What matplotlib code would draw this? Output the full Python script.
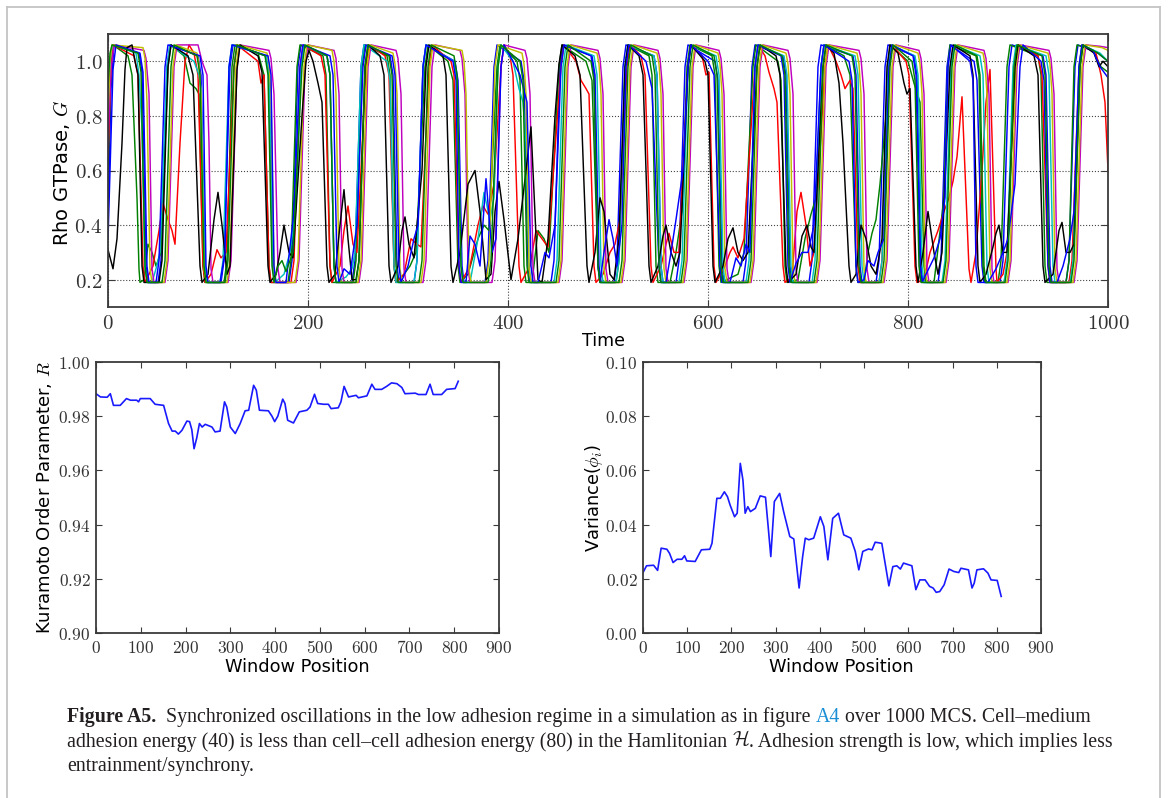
import matplotlib
matplotlib.use("Agg")
import matplotlib.pyplot as plt
from matplotlib.ticker import FixedLocator, FuncFormatter
from matplotlib.lines import Line2D

W, H = 1168, 798

# ---------------- top panel data: (time, Rho GTPase G) keypoints ----------------
rho_blue_1 = [(0,0.42),(3,0.9),(6,1.06),(31,1.03),(34,0.96),(38,0.25),(40,0.19),
 (50,0.19),(53,0.27),(59,0.98),(62,1.06),(90,1.02),(93,0.95),(97,0.25),(99,0.19),
 (113,0.19),(116,0.27),(122,0.98),(125,1.06),(158,1.02),(161,0.95),(165,0.25),(167,0.19),
 (181,0.19),(184,0.27),(190,0.98),(193,1.06),(219,1.02),(222,0.95),(226,0.25),(228,0.19),
 (244,0.19),(247,0.27),(253,0.98),(256,1.06),(282,1.02),(285,0.95),(289,0.25),(291,0.19),
 (306,0.19),(309,0.27),(315,0.98),(318,1.06),(347,1.0),(350,0.93),(354,0.25),(356,0.19),
 (377,0.19),(380,0.27),(386,0.98),(389,1.06),(413,1.0),(416,0.93),(420,0.25),(422,0.19),
 (443,0.19),(446,0.27),(452,0.98),(455,1.06),(484,1.02),(487,0.95),(491,0.25),(493,0.19),
 (506,0.19),(509,0.27),(515,0.98),(518,1.06),(546,1.02),(549,0.95),(553,0.25),(555,0.19),
 (568,0.19),(571,0.27),(577,0.98),(580,1.06),(607,1.0),(610,0.93),(614,0.25),(616,0.19),
 (635,0.19),(638,0.27),(644,0.98),(647,1.06),(675,1.02),(678,0.95),(682,0.25),(684,0.19),
 (701,0.19),(704,0.27),(710,0.98),(713,1.06),(745,1.02),(748,0.95),(752,0.25),(754,0.19),
 (768,0.19),(771,0.27),(777,0.98),(780,1.06),(806,1.02),(809,0.95),(813,0.25),(815,0.19),
 (830,0.19),(833,0.27),(839,0.98),(842,1.06),(866,1.0),(869,0.93),(874,0.25),(876,0.19),
 (892,0.19),(895,0.27),(901,0.98),(904,1.06),(935,1.02),(938,0.95),(942,0.25),(944,0.19),
 (958,0.19),(961,0.27),(967,0.98),(970,1.06),(990,1.03),(1000,1.0)]

rho_green_1 = [(0,0.6),(3,0.98),(5,1.06),(20,1.02),(24,0.95),(29,0.5),(31,0.24),(32,0.19),(36,0.2),
 (40,0.33),(44,0.3),(48,0.25),(53,0.3),(60,0.98),(63,1.06),(76,1.02),(82,0.92),(88,0.9),(91,0.88),
 (95,0.25),(97,0.19),(116,0.19),(119,0.27),(124,0.98),(127,1.06),(150,1.03),(156,0.95),(161,0.25),
 (163,0.19),(180,0.19),(183,0.27),(189,0.98),(192,1.06),(215,1.02),(218,0.95),(222,0.25),(224,0.19),
 (245,0.19),(248,0.27),(254,0.98),(257,1.06),(279,1.02),(282,0.95),(286,0.25),(288,0.19),
 (296,0.22),(302,0.25),(308,0.3),(317,0.98),(320,1.06),(340,1.0),(345,0.93),(350,0.25),(352,0.19),
 (360,0.22),(370,0.35),(376,0.4),(381,0.38),(389,0.98),(392,1.06),(409,1.0),(412,0.93),(416,0.25),
 (418,0.19),(424,0.19),(430,0.38),(436,0.35),(441,0.3),(451,0.98),(454,1.06),(478,1.0),(484,0.93),
 (490,0.25),(492,0.19),(508,0.19),(511,0.27),(517,0.98),(520,1.06),(541,1.02),(544,0.95),(548,0.25),
 (550,0.19),(562,0.19),(568,0.3),(574,0.45),(579,0.98),(582,1.06),(604,1.02),(607,0.95),(611,0.25),
 (613,0.19),(630,0.22),(636,0.3),(645,0.98),(648,1.06),(670,1.0),(673,0.93),(677,0.25),(679,0.19),
 (690,0.2),(697,0.35),(703,0.44),(708,0.5),(713,0.98),(716,1.06),(736,1.02),(742,0.95),(748,0.25),
 (750,0.19),(756,0.19),(760,0.3),(764,0.37),(768,0.42),(772,0.55),(778,0.8),(780,0.98),(782,1.06),
 (800,1.0),(806,0.92),(812,0.85),(816,0.25),(818,0.19),(826,0.19),(836,0.5),(840,0.98),(842,1.06),
 (868,1.02),(871,0.95),(875,0.25),(877,0.19),(890,0.19),(893,0.27),(899,0.98),(902,1.06),
 (930,1.02),(933,0.95),(937,0.25),(939,0.19),(958,0.19),(961,0.27),(966,0.98),(969,1.06),
 (985,1.04),(993,0.98),(1000,0.96)]

rho_red = [(0,0.65),(3,0.98),(5,1.06),(26,1.02),(30,0.95),(35,0.25),(37,0.19),(45,0.25),(51,0.38),
 (55,0.48),(60,0.42),(64,0.38),(67,0.33),(72,0.7),(77,1.0),(81,1.06),(86,1.03),(90,0.95),(95,0.25),
 (97,0.19),(103,0.22),(109,0.31),(113,0.28),(118,0.3),(126,0.98),(129,1.06),(150,1.0),(153,0.92),
 (156,0.95),(161,0.25),(163,0.19),(183,0.19),(186,0.27),(192,0.98),(195,1.06),(213,1.02),(217,0.95),
 (222,0.25),(224,0.19),(232,0.25),(236,0.38),(240,0.47),(245,0.33),(249,0.3),(258,0.98),(261,1.06),
 (277,1.02),(281,0.95),(286,0.25),(288,0.19),(296,0.22),(303,0.35),(309,0.33),(313,0.32),(321,0.98),
 (324,1.06),(343,1.0),(346,0.95),(351,0.25),(353,0.19),(362,0.25),(370,0.4),(375,0.47),(380,0.44),
 (386,0.55),(393,0.98),(396,1.06),(402,1.02),(405,0.95),(411,0.25),(413,0.19),(422,0.25),(428,0.38),
 (434,0.35),(440,0.32),(453,0.98),(456,1.06),(468,1.0),(473,0.93),(478,0.9),(481,0.88),(486,0.25),
 (488,0.19),(495,0.22),(502,0.3),(507,0.33),(512,0.42),(519,0.98),(522,1.06),(533,1.02),(537,0.95),
 (543,0.25),(545,0.19),(553,0.25),(558,0.33),(561,0.37),(566,0.3),(571,0.3),(580,0.98),(583,1.06),
 (594,1.02),(598,0.95),(601,0.96),(606,0.25),(608,0.19),(617,0.25),(622,0.3),(625,0.32),(630,0.28),
 (636,0.35),(647,0.98),(650,1.06),(657,1.02),(661,0.96),(666,0.9),(669,0.85),(675,0.25),(677,0.19),
 (684,0.21),(689,0.45),(693,0.52),(698,0.4),(702,0.25),(706,0.3),(717,0.98),(720,1.06),(728,1.0),
 (733,0.95),(737,0.9),(742,0.93),(745,0.9),(750,0.25),(752,0.19),(771,0.19),(774,0.27),(781,0.98),
 (784,1.06),(798,1.0),(801,0.95),(807,0.25),(809,0.19),(816,0.2),(822,0.3),(830,0.38),(836,0.45),
 (841,0.5),(845,0.56),(849,0.65),(854,0.87),(857,0.6),(861,0.24),(863,0.19),(868,0.3),(874,0.6),
 (878,0.85),(882,0.97),(885,0.6),(888,0.24),(889,0.19),(895,0.22),(899,0.3),(907,0.98),(910,1.06),
 (930,1.02),(934,0.95),(940,0.25),(942,0.19),(961,0.19),(964,0.27),(971,0.98),(974,1.06),
 (988,1.03),(993,0.95),(997,0.85),(1000,0.6)]

rho_cyan = [(0,0.85),(3,1.03),(5,1.06),(28,1.03),(31,0.95),(34,0.75),(37,0.25),(39,0.19),
 (44,0.19),(48,0.24),(52,0.3),(59,0.98),(62,1.06),(86,1.0),(91,0.95),(93,0.9),(97,0.25),(99,0.19),
 (112,0.19),(115,0.27),(121,0.98),(124,1.06),(158,1.02),(161,0.95),(165,0.25),(167,0.19),
 (176,0.22),(182,0.3),(188,0.47),(193,0.98),(196,1.06),(219,1.02),(222,0.95),(226,0.25),(228,0.19),
 (238,0.21),(244,0.24),(247,0.3),(253,0.98),(256,1.06),(279,1.0),(282,0.93),(286,0.25),(288,0.19),
 (306,0.19),(309,0.27),(315,0.98),(318,1.06),(346,1.0),(349,0.93),(353,0.25),(355,0.19),
 (362,0.19),(370,0.35),(376,0.52),(382,0.42),(386,0.5),(390,0.98),(393,1.06),
 (405,1.0),(411,0.9),(415,0.85),(418,0.7),(421,0.25),(423,0.19),
 (446,0.19),(449,0.27),(455,0.98),(458,1.06),(486,1.02),(489,0.95),(493,0.25),(495,0.19),
 (508,0.19),(511,0.27),(517,0.98),(520,1.06),(546,1.02),(549,0.95),(553,0.25),(555,0.19),
 (571,0.19),(574,0.27),(580,0.98),(583,1.06),(608,1.02),(611,0.95),(615,0.25),(617,0.19),
 (638,0.19),(641,0.27),(647,0.98),(650,1.06),(676,1.02),(679,0.95),(683,0.25),(685,0.19),
 (704,0.19),(707,0.27),(713,0.98),(716,1.06),(747,1.02),(750,0.95),(754,0.25),(756,0.19),
 (771,0.19),(774,0.27),(780,0.98),(783,1.06),(807,1.02),(810,0.95),(814,0.25),(816,0.19),
 (834,0.19),(837,0.27),(843,0.98),(846,1.06),(872,1.02),(875,0.95),(879,0.25),(881,0.19),
 (896,0.19),(899,0.27),(905,0.98),(908,1.06),(938,1.02),(941,0.95),(945,0.25),(947,0.19),
 (962,0.19),(965,0.27),(971,0.98),(974,1.06),(992,1.03),(1000,1.0)]

rho_magenta = [(0,0.7),(3,0.97),(6,1.06),(36,1.04),(38,1.01),(41,0.88),(44,0.24),(46,0.19),
 (57,0.19),(60,0.27),(66,0.98),(69,1.06),(90,1.06),(94,1.0),(99,0.95),(101,0.7),(103,0.24),(105,0.19),
 (120,0.19),(123,0.27),(129,0.98),(132,1.06),(161,1.04),(163,1.01),(166,0.88),(170,0.24),(172,0.19),
 (188,0.19),(191,0.27),(197,0.98),(200,1.06),(226,1.04),(228,1.01),(231,0.88),(234,0.24),(236,0.19),
 (251,0.19),(254,0.27),(260,0.98),(263,1.06),(288,1.04),(290,1.01),(293,0.88),(296,0.24),(298,0.19),
 (315,0.19),(318,0.27),(324,0.98),(327,1.06),(352,1.04),(354,1.01),(357,0.88),(360,0.24),(362,0.19),
 (384,0.19),(387,0.27),(393,0.98),(396,1.06),(417,1.04),(419,1.01),(422,0.88),(425,0.24),(427,0.19),
 (451,0.19),(454,0.27),(460,0.98),(463,1.06),(490,1.04),(492,1.01),(495,0.88),(498,0.24),(500,0.19),
 (514,0.19),(517,0.27),(523,0.98),(526,1.06),(550,1.04),(552,1.01),(555,0.88),(558,0.24),(560,0.19),
 (576,0.19),(579,0.27),(585,0.98),(588,1.06),(611,1.04),(613,1.01),(616,0.88),(619,0.24),(621,0.19),
 (643,0.19),(646,0.27),(652,0.98),(655,1.06),(680,1.04),(682,1.01),(685,0.88),(688,0.24),(690,0.19),
 (709,0.19),(712,0.27),(718,0.98),(721,1.06),(751,1.04),(753,1.01),(756,0.88),(759,0.24),(761,0.19),
 (776,0.19),(779,0.27),(785,0.98),(788,1.06),(811,1.04),(813,1.01),(816,0.88),(819,0.24),(821,0.19),
 (838,0.19),(841,0.27),(847,0.98),(850,1.06),(876,1.04),(878,1.01),(881,0.88),(884,0.24),(886,0.19),
 (900,0.19),(903,0.27),(909,0.98),(912,1.06),(941,1.04),(943,1.01),(946,0.88),(949,0.24),(951,0.19),
 (966,0.19),(969,0.27),(975,0.98),(978,1.06),(992,1.055),(1000,1.05)]

rho_yellow = [(0,0.8),(2,1.0),(4,1.06),(35,1.05),(37,1.01),(39,0.85),(42,0.24),(44,0.19),
 (56,0.19),(59,0.27),(65,0.98),(68,1.06),(89,1.03),(91,0.99),(93,0.88),(96,0.24),(98,0.19),
 (119,0.19),(122,0.27),(128,0.98),(131,1.06),(159,1.03),(161,0.99),(163,0.88),(166,0.24),(168,0.19),
 (187,0.19),(190,0.27),(196,0.98),(199,1.06),(224,1.04),(226,1.0),(228,0.88),(231,0.24),(233,0.19),
 (250,0.19),(253,0.27),(259,0.98),(262,1.06),(285,1.03),(287,0.99),(289,0.88),(292,0.24),(294,0.19),
 (313,0.19),(316,0.27),(322,0.98),(325,1.06),(354,1.04),(356,1.0),(358,0.88),(361,0.24),(363,0.19),
 (378,0.19),(381,0.27),(387,0.98),(390,1.06),(414,1.03),(416,0.99),(418,0.88),(421,0.24),(423,0.19),
 (450,0.19),(453,0.27),(459,0.98),(462,1.06),(489,1.03),(491,0.99),(493,0.88),(496,0.24),(498,0.19),
 (513,0.19),(516,0.27),(522,0.98),(525,1.06),(549,1.03),(551,0.99),(553,0.88),(556,0.24),(558,0.19),
 (575,0.19),(578,0.27),(584,0.98),(587,1.06),(610,1.03),(612,0.99),(614,0.88),(617,0.24),(619,0.19),
 (642,0.19),(645,0.27),(651,0.98),(654,1.06),(678,1.03),(680,0.99),(682,0.88),(685,0.24),(687,0.19),
 (708,0.19),(711,0.27),(717,0.98),(720,1.06),(749,1.03),(751,0.99),(753,0.88),(756,0.24),(758,0.19),
 (775,0.19),(778,0.27),(784,0.98),(787,1.06),(810,1.03),(812,0.99),(814,0.88),(817,0.24),(819,0.19),
 (837,0.19),(840,0.27),(846,0.98),(849,1.06),(875,1.03),(877,0.99),(879,0.88),(882,0.24),(884,0.19),
 (899,0.19),(902,0.27),(908,0.98),(911,1.06),(940,1.03),(942,0.99),(944,0.88),(947,0.24),(949,0.19),
 (965,0.19),(968,0.27),(974,0.98),(977,1.06),(994,1.05),(1000,1.04)]

rho_black = [(0,0.31),(5,0.24),(9,0.35),(14,0.7),(17,0.97),(19,1.05),(24,1.06),(27,1.0),(30,0.95),
 (34,0.25),(36,0.19),(51,0.19),(54,0.27),(60,0.98),(63,1.06),(80,1.02),(85,0.95),(92,0.25),(94,0.19),
 (100,0.22),(106,0.42),(110,0.52),(114,0.4),(119,0.22),(122,0.25),(129,0.97),(132,1.06),(150,1.02),
 (154,0.96),(160,0.25),(162,0.19),(168,0.22),(172,0.3),(176,0.40),(181,0.3),(185,0.28),(194,0.8),
 (198,1.0),(201,1.04),(205,1.0),(210,0.92),(214,0.85),(219,0.25),(221,0.19),(227,0.22),(232,0.4),
 (236,0.53),(240,0.35),(244,0.2),(248,0.2),(251,0.27),(257,0.98),(260,1.06),(272,1.02),(276,0.95),
 (281,0.25),(283,0.19),(290,0.25),(294,0.38),(297,0.43),(301,0.33),(306,0.28),(314,0.6),(318,0.98),
 (321,1.06),(335,1.02),(338,0.95),(343,0.25),(345,0.19),(352,0.3),(360,0.55),(367,0.6),(372,0.45),
 (378,0.2),(383,0.22),(387,0.45),(391,0.56),(396,0.42),(403,0.2),(410,0.35),(418,0.6),(423,0.76),
 (425,0.6),(430,0.2),(434,0.19),(440,0.35),(447,0.8),(451,0.99),(454,1.06),(467,1.02),(472,0.95),
 (479,0.25),(481,0.19),(487,0.3),(492,0.5),(496,0.45),(502,0.22),(506,0.2),(511,0.35),(517,0.98),
 (520,1.06),(531,1.02),(535,0.95),(541,0.25),(543,0.19),(550,0.25),(555,0.36),(558,0.40),(563,0.3),
 (568,0.25),(572,0.3),(580,0.98),(583,1.06),(597,1.0),(600,0.95),(605,0.25),(607,0.19),(615,0.25),
 (620,0.35),(625,0.39),(630,0.3),(635,0.27),(640,0.3),(649,0.98),(652,1.06),(668,1.02),(672,0.95),
 (678,0.25),(680,0.19),(688,0.22),(694,0.36),(699,0.40),(703,0.32),(706,0.3),(715,0.98),(718,1.06),
 (726,1.03),(731,0.92),(735,0.7),(741,0.25),(743,0.19),(748,0.22),(753,0.40),(758,0.35),(763,0.25),
 (768,0.22),(774,0.35),(779,0.98),(782,1.06),(790,1.03),(796,0.92),(799,0.88),(802,0.9),(808,0.25),
 (810,0.19),(815,0.3),(820,0.45),(826,0.3),(830,0.22),(834,0.3),(842,0.98),(845,1.06),(862,1.02),
 (865,0.95),(870,0.25),(872,0.19),(878,0.22),(885,0.32),(888,0.37),(891,0.4),(895,0.3),(899,0.3),
 (907,0.98),(910,1.06),(926,1.02),(930,0.95),(935,0.25),(937,0.19),(945,0.22),(951,0.38),(954,0.41),
 (958,0.3),(962,0.3),(966,0.33),(972,0.98),(975,1.06),(986,1.03),(991,0.98),(995,1.0),(1000,0.98)]

rho_blue_2 = [(0,0.35),(5,0.97),(8,1.06),(32,1.03),(35,0.96),(39,0.25),(41,0.19),(48,0.19),(51,0.27),
 (57,0.98),(60,1.06),(92,1.02),(95,0.95),(98,0.25),(100,0.19),(112,0.19),(117,0.3),(121,0.98),
 (124,1.06),(160,1.02),(163,0.95),(166,0.25),(168,0.19),(178,0.19),(186,0.45),(192,0.98),(195,1.06),
 (222,1.02),(225,0.95),(229,0.25),(231,0.19),(236,0.24),(242,0.22),(249,0.4),(255,0.98),(258,1.06),
 (284,1.02),(287,0.95),(291,0.25),(293,0.19),(300,0.25),(306,0.35),(310,0.4),(315,0.98),(318,1.06),
 (345,1.0),(348,0.93),(351,0.25),(353,0.19),(358,0.19),(362,0.36),(367,0.33),(372,0.25),(378,0.57),
 (384,0.3),(388,0.35),(393,0.98),(396,1.06),(405,1.0),(412,0.95),(419,0.85),(423,0.25),(425,0.19),
 (430,0.19),(437,0.3),(441,0.28),(447,0.4),(453,0.98),(456,1.06),(483,1.02),(486,0.95),(490,0.25),
 (492,0.19),(496,0.3),(501,0.42),(505,0.35),(509,0.25),(514,0.4),(518,0.98),(521,1.06),(538,1.0),
 (544,0.9),(551,0.25),(553,0.19),(558,0.19),(563,0.3),(568,0.42),(575,0.6),(580,0.98),(583,1.06),
 (600,1.0),(606,0.95),(612,0.25),(614,0.19),(622,0.19),(628,0.28),(633,0.25),(638,0.33),(642,0.3),
 (647,0.98),(650,1.06),(673,1.02),(676,0.95),(680,0.25),(682,0.19),(688,0.26),(694,0.3),(700,0.3),
 (706,0.4),(713,0.98),(716,1.06),(741,1.0),(744,0.93),(748,0.25),(750,0.19),(756,0.2),(760,0.27),
 (766,0.25),(770,0.3),(776,0.35),(781,0.98),(784,1.06),(805,1.02),(808,0.95),(812,0.25),(814,0.19),
 (818,0.22),(826,0.28),(832,0.35),(837,0.5),(840,0.98),(843,1.06),(862,1.0),(865,0.93),(868,0.25),
 (870,0.19),(880,0.19),(888,0.24),(895,0.3),(900,0.35),(907,0.55),(912,0.98),(915,1.06),(933,1.0),
 (936,0.93),(940,0.25),(942,0.19),(949,0.19),(955,0.25),(962,0.35),(966,0.45),(971,0.98),(974,1.06),
 (985,1.04),(992,0.98),(1000,0.94)]

rho_green_2 = [(0,0.9),(2,1.03),(4,1.06),(30,1.03),(33,0.96),(37,0.25),(39,0.19),
 (54,0.19),(57,0.27),(63,0.98),(66,1.06),(89,1.02),(92,0.95),(96,0.25),(98,0.19),
 (117,0.19),(120,0.27),(126,0.98),(129,1.06),(157,1.02),(160,0.95),(164,0.25),(166,0.19),
 (170,0.25),(174,0.27),(178,0.23),(185,0.3),(194,0.98),(197,1.06),(219,1.02),(222,0.95),(226,0.25),
 (228,0.19),(248,0.19),(251,0.27),(257,0.98),(260,1.06),(281,1.02),(284,0.95),(288,0.25),(290,0.19),
 (311,0.19),(314,0.27),(320,0.98),(323,1.06),(346,1.02),(349,0.95),(353,0.25),(355,0.19),
 (380,0.19),(383,0.27),(390,0.98),(393,1.06),(412,1.0),(415,0.93),(419,0.25),(421,0.19),
 (448,0.19),(451,0.27),(457,0.98),(460,1.06),(483,1.0),(486,0.93),(490,0.25),(492,0.19),
 (511,0.19),(514,0.27),(520,0.98),(523,1.06),(544,1.02),(547,0.95),(551,0.25),(553,0.19),
 (573,0.19),(576,0.27),(582,0.98),(585,1.06),(606,1.02),(609,0.95),(613,0.25),(615,0.19),
 (640,0.19),(643,0.27),(649,0.98),(652,1.06),(674,1.02),(677,0.95),(681,0.25),(683,0.19),
 (706,0.19),(709,0.27),(715,0.98),(718,1.06),(744,1.02),(747,0.95),(751,0.25),(753,0.19),
 (773,0.19),(776,0.27),(782,0.98),(785,1.06),(804,1.0),(807,0.93),(811,0.25),(813,0.19),
 (835,0.19),(838,0.27),(844,0.98),(847,1.06),(869,1.02),(872,0.95),(876,0.25),(878,0.19),
 (897,0.19),(900,0.27),(906,0.98),(909,1.06),(934,1.02),(937,0.95),(941,0.25),(943,0.19),
 (963,0.19),(966,0.27),(972,0.98),(975,1.06),(990,1.03),(1000,1.0)]

rho_series = [("b", rho_blue_1), ("g", rho_green_1), ("r", rho_red), ("c", rho_cyan),
              ("m", rho_magenta), ("y", rho_yellow), ("k", rho_black), ("b", rho_blue_2),
              ("g", rho_green_2)]
rho_colors = {"b": "#0000ff", "g": "#008000", "r": "#ff0000", "c": "#00bfbf",
              "m": "#bf00bf", "y": "#bfbf00", "k": "#000000"}

# ---------------- bottom panels: (window position, value) ----------------
kuramoto = [(0,0.9883),(10,0.9871),(25,0.987),(32,0.9883),(39,0.984),(54,0.984),(68,0.9865),
 (77,0.9859),(91,0.9859),(95,0.9853),(99,0.9865),(121,0.9865),(132,0.9844),(151,0.984),(162,0.9773),
 (170,0.9745),(177,0.9745),(184,0.9734),(192,0.9748),(203,0.9782),(209,0.978),(214,0.975),(219,0.968),
 (225,0.972),(231,0.9773),(237,0.976),(244,0.977),(259,0.976),(266,0.9742),(277,0.9745),(287,0.9853),
 (292,0.9834),(300,0.976),(311,0.9736),(322,0.9773),(333,0.982),(341,0.9822),(352,0.9914),(358,0.9896),
 (365,0.9822),(385,0.982),(393,0.980),(399,0.978),(406,0.980),(417,0.9863),(422,0.9847),(428,0.9785),
 (441,0.9775),(454,0.9816),(471,0.9822),(478,0.9834),(488,0.9881),(495,0.9847),(508,0.9844),
 (519,0.9844),(525,0.9828),(541,0.9831),(547,0.9853),(554,0.991),(564,0.9871),(575,0.9875),
 (581,0.9877),(586,0.9868),(605,0.9875),(616,0.9918),(623,0.9899),(638,0.9899),(649,0.991),
 (660,0.9923),(672,0.992),(683,0.9906),(690,0.9883),(713,0.9885),(720,0.988),(737,0.988),
 (746,0.9918),(753,0.988),(772,0.988),(783,0.9899),(802,0.9902),(809,0.9929)]

variance = [(0,0.0223),(8,0.0248),(24,0.025),(33,0.0231),(41,0.0313),(54,0.0309),(60,0.0294),
 (68,0.026),(77,0.0272),(88,0.0272),(94,0.0285),(99,0.0266),(118,0.0264),(132,0.0307),(151,0.0309),
 (156,0.0331),(167,0.0497),(175,0.0497),(184,0.0521),(191,0.0503),(197,0.0472),(207,0.0429),
 (213,0.0442),(220,0.0626),(226,0.0564),(231,0.0442),(237,0.0466),(243,0.0448),(254,0.046),
 (265,0.0506),(277,0.0501),(283,0.0393),(289,0.0282),(297,0.0485),(309,0.0515),(318,0.0448),
 (332,0.0356),(341,0.0347),(353,0.0166),(361,0.0282),(367,0.035),(375,0.0344),(386,0.035),
 (401,0.0429),(409,0.0393),(418,0.027),(429,0.0423),(442,0.0442),(454,0.0362),(470,0.035),
 (480,0.0301),(488,0.0233),(497,0.0301),(510,0.031),(518,0.0307),(525,0.0335),(540,0.0331),
 (556,0.0174),(565,0.0245),(574,0.0248),(582,0.0236),(589,0.0258),(608,0.0248),(617,0.016),
 (626,0.0196),(638,0.0196),(648,0.0172),(656,0.0166),(663,0.015),(671,0.0153),(681,0.0178),
 (692,0.0236),(703,0.0227),(714,0.0223),(719,0.0239),(736,0.0233),(744,0.0166),(749,0.0184),
 (755,0.0233),(770,0.0237),(780,0.0221),(787,0.0196),(801,0.0194),(810,0.0135)]

top_xticks = [0, 200, 400, 600, 800, 1000]
top_yticks = [0.2, 0.4, 0.6, 0.8, 1.0]
win_xticks = [0, 100, 200, 300, 400, 500, 600, 700, 800, 900]
r_yticks = [0.90, 0.92, 0.94, 0.96, 0.98, 1.00]
var_yticks = [0.00, 0.02, 0.04, 0.06, 0.08, 0.10]

caption_lines = [
    [("Figure A5.", "bold"), ("  Synchronized oscillations in the low adhesion regime in a simulation as in figure ", "normal"),
     ("A4", "link"), (" over 1000 MCS. Cell\u2013medium", "normal")],
    [("adhesion energy (40) is less than cell\u2013cell adhesion energy (80) in the Hamlitonian ", "normal"),
     ("$\\mathcal{H}$", "normal"), (". Adhesion strength is low, which implies less", "normal")],
    [("entrainment/synchrony.", "normal")],
]

# ---------------- styling ----------------
plt.rcParams["font.family"] = ["DejaVu Sans"]
plt.rcParams["mathtext.fontset"] = "cm"
plt.rcParams["xtick.direction"] = "in"
plt.rcParams["ytick.direction"] = "in"
plt.rcParams["xtick.top"] = True
plt.rcParams["ytick.right"] = True

fig = plt.figure(figsize=(W / 100, H / 100), dpi=100)
fig.patch.set_facecolor("white")

def px_axes(l, t, r, b):
    return fig.add_axes([l / W, 1 - b / H, (r - l) / W, (b - t) / H])

def style_axes(ax, size, fmt, tick_len):
    for s in ax.spines.values():
        s.set_linewidth(1.3)
        s.set_color("#3a3a3a")
    ax.tick_params(which="both", length=tick_len, width=0.8, color="#3a3a3a", pad=4,
                   labelsize=size, labelcolor="#333333")
    ax.xaxis.set_major_formatter(FuncFormatter(lambda v, p: "$%d$" % round(v)))
    ax.yaxis.set_major_formatter(FuncFormatter(lambda v, p: ("$" + fmt + "$") % v))

# top panel
ax1 = px_axes(108, 34, 1108, 307)
for key, pts in rho_series:
    t, g = zip(*pts)
    ax1.plot(t, g, color=rho_colors[key], lw=1.05, solid_joinstyle="round")
ax1.set_xlim(0, 1000)
ax1.set_ylim(0.1, 1.1)
ax1.xaxis.set_major_locator(FixedLocator(top_xticks))
ax1.yaxis.set_major_locator(FixedLocator(top_yticks))
ax1.grid(True, color="#444444", linestyle=":", linewidth=0.8)
style_axes(ax1, 15, "%.1f", 5)

# bottom-left
ax2 = px_axes(96, 362, 499, 633)
w, r = zip(*kuramoto)
ax2.plot(w, r, color="#1a1aff", lw=1.2)
ax2.set_xlim(0, 900)
ax2.set_ylim(0.90, 1.00)
ax2.xaxis.set_major_locator(FixedLocator(win_xticks))
ax2.yaxis.set_major_locator(FixedLocator(r_yticks))
style_axes(ax2, 12.5, "%.2f", 4.5)

# bottom-right
ax3 = px_axes(643, 362, 1041, 633)
w, v = zip(*variance)
ax3.plot(w, v, color="#1a1aff", lw=1.2)
ax3.set_xlim(0, 900)
ax3.set_ylim(0.0, 0.10)
ax3.xaxis.set_major_locator(FixedLocator(win_xticks))
ax3.yaxis.set_major_locator(FixedLocator(var_yticks))
style_axes(ax3, 12.5, "%.2f", 4.5)

def ftext(x, y, s, **kw):
    return fig.text(x / W, 1 - y / H, s, **kw)

lab = dict(ha="center", va="center", color="black")
ftext(61, 173, "Rho GTPase, $G$", rotation=90, fontsize=14, **lab)
ftext(604, 341, "Time", fontsize=12.5, **lab)
ftext(297, 667, "Window Position", fontsize=12.8, **lab)
ftext(841, 667, "Window Position", fontsize=12.8, **lab)
ftext(44, 498, "Kuramoto Order Parameter, $R$", rotation=90, fontsize=13, **lab)
ftext(594, 498, "Variance($\\phi_i$)", rotation=90, fontsize=12.8, **lab)

# frame around the figure panel
for xs, ys in [((7, 7), (7, 800)), ((7, 1160), (7, 7)), ((1160, 1160), (7, 800))]:
    fig.add_artist(Line2D([x / W for x in xs], [1 - y / H for y in ys], color="#c4c4c4",
                          lw=1.3, transform=fig.transFigure))

# caption
renderer = fig.canvas.get_renderer()
cap_font = ["Liberation Serif", "DejaVu Serif"]

def piece_kw(kind, size):
    kw = dict(fontsize=size, family=cap_font, color="#231f20")
    if kind == "bold":
        kw["fontweight"] = "bold"
    if kind == "link":
        kw["color"] = "#1a8fd6"
    return kw

def piece_width(txt, kind, size):
    a = fig.text(0, 0, "|" + txt + "|", **piece_kw(kind, size))
    b = fig.text(0, 0, "||", **piece_kw(kind, size))
    wd = a.get_window_extent(renderer).width - b.get_window_extent(renderer).width
    a.remove(); b.remove()
    return wd

base = 12.0
w2 = sum(piece_width(t, k, base) for t, k in caption_lines[1])
cap_size = base * (1108 - 67) / w2

for i, line in enumerate(caption_lines):
    x = 67
    y = 722 + i * 24.5
    for txt, kind in line:
        ftext(x, y, txt, ha="left", va="baseline", **piece_kw(kind, cap_size))
        x += piece_width(txt, kind, cap_size)

fig.savefig("out.png", dpi=100)
